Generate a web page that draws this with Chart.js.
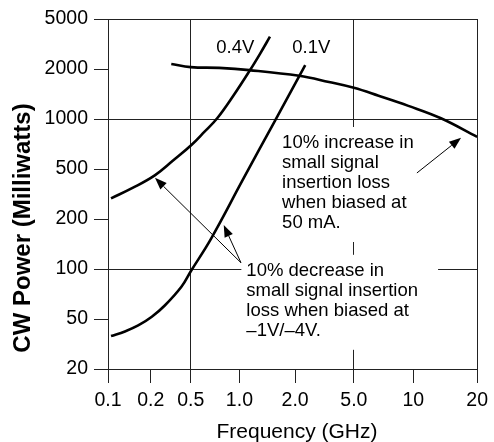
<!DOCTYPE html>
<html>
<head>
<meta charset="utf-8">
<title>CW Power vs Frequency</title>
<script src="https://cdn.jsdelivr.net/npm/chart.js"></script>
<style>
  html, body { margin: 0; padding: 0; background: #fff; }
  #chart { display: block; }
</style>
</head>
<body>
<canvas id="chart" width="494" height="442"></canvas>
<script>
// tick values of the graph paper
const freqTicks = [0.1, 0.2, 0.5, 1.0, 2.0, 5.0, 10, 20];
const freqTickLabels = ['0.1', '0.2', '0.5', '1.0', '2.0', '5.0', '10', '20'];
const powerTicks = [20, 50, 100, 200, 500, 1000, 2000, 5000];
const powerTickLabels = ['20', '50', '100', '200', '500', '1000', '2000', '5000'];

// 0.4V curve (GHz, mW)
const freq04V = [0.105, 0.150, 0.219, 0.331, 0.505, 0.609, 0.729, 0.919, 1.142, 1.292, 1.462];
const power04V = [292, 355, 445, 560, 697, 839, 1010, 1385, 1972, 2642, 3615];

// 0.1V curve
const freq01V = [0.105, 0.1315, 0.163, 0.2046, 0.2756, 0.404, 0.502, 0.670, 1.042, 1.542, 2.34];
const power01V = [36.6, 39.8, 44.4, 51.6, 60.3, 78.2, 97.3, 153, 409, 959, 2150];

// 50 mA curve
const freq50mA = [0.32, 0.5, 0.75, 1.13, 2.13, 3.39, 5, 6.67, 9.44, 13.5, 20];
const power50mA = [2190, 2070, 2040, 1970, 1820, 1670, 1540, 1380, 1200, 1010, 780];

// the paper's x divisions are not evenly spaced, y divisions are
const freqTickPlace = [0, 0.116, 0.224, 0.356, 0.507, 0.666, 0.827, 1];
const powerTickPlace = powerTicks.map((v, i) => i / (powerTicks.length - 1));
const gridAt = [2, 5, 7];

// log interpolation between neighbouring ticks
function place(v, ticks, places) {
    const n = ticks.length;
    let i = 0;
    while (i < n - 2 && v > ticks[i + 1]) i++;
    const t = Math.log(v / ticks[i]) / Math.log(ticks[i + 1] / ticks[i]);
    return places[i] + t * (places[i + 1] - places[i]);
}
const fx = f => place(f, freqTicks, freqTickPlace);
const fy = p => place(p, powerTicks, powerTickPlace);

function curve(xs, ys) {
    return xs.map((f, i) => ({ x: fx(f), y: fy(ys[i]) }));
}

const FONT = '"Liberation Sans", Arial, sans-serif';

const notes = {
    labels: [
        { text: '0.4V', at: [0.72, 2680] },
        { text: '0.1V', at: [1.93, 2680] }
    ],
    blocks: [
        { lines: ['10% increase in', 'small signal', 'insertion loss', 'when biased at', '50 mA.'],
          at: [1.70, 669], padL: 4, padR: 4 },
        { lines: ['10% decrease in', 'small signal insertion', 'loss when biased at', '\u20131V/\u20134V.'],
          at: [1.09, 91], padL: 5, padR: 20 }
    ],
    arrows: [
        { from: [1.02, 109], to: [0.22, 425] },
        { from: [1.02, 109], to: [0.80, 184] },
        { from: [10.4, 465], to: [16.8, 770] }
    ]
};

function toPx(chart, pt) {
    return [chart.scales.x.getPixelForValue(fx(pt[0])), chart.scales.y.getPixelForValue(fy(pt[1]))];
}

const annotate = {
    id: 'annotate',
    beforeDatasetsDraw(chart) {
        const ctx = chart.ctx;
        ctx.save();
        ctx.font = '18.5px ' + FONT;
        ctx.fillStyle = '#fff';
        notes.blocks.forEach(b => {
            const [x, y] = toPx(chart, b.at);
            const w = Math.max(...b.lines.map(l => ctx.measureText(l).width));
            const top = y - 13 - 8;
            const bottom = y + (b.lines.length - 1) * 20 + 14;
            ctx.fillRect(x - b.padL, top, w + b.padL + b.padR, bottom - top);
        });
        ctx.restore();
    },
    afterDraw(chart) {
        const ctx = chart.ctx;
        ctx.save();
        ctx.fillStyle = '#000';
        ctx.textAlign = 'left';
        ctx.textBaseline = 'alphabetic';
        ctx.font = '18.5px ' + FONT;
        notes.labels.forEach(l => {
            const [x, y] = toPx(chart, l.at);
            ctx.fillText(l.text, x, y);
        });
        notes.blocks.forEach(b => {
            const [x, y] = toPx(chart, b.at);
            b.lines.forEach((line, i) => ctx.fillText(line, x, y + i * 20));
        });

        // arrows
        ctx.strokeStyle = '#000';
        ctx.lineWidth = 1;
        notes.arrows.forEach(a => {
            const [x0, y0] = toPx(chart, a.from);
            const [x1, y1] = toPx(chart, a.to);
            const ang = Math.atan2(y1 - y0, x1 - x0);
            const len = 12, half = 4.5;
            const bx = x1 - len * Math.cos(ang), by = y1 - len * Math.sin(ang);
            ctx.beginPath();
            ctx.moveTo(x0, y0);
            ctx.lineTo(bx, by);
            ctx.stroke();
            ctx.beginPath();
            ctx.moveTo(x1, y1);
            ctx.lineTo(bx + half * Math.sin(ang), by - half * Math.cos(ang));
            ctx.lineTo(bx - half * Math.sin(ang), by + half * Math.cos(ang));
            ctx.closePath();
            ctx.fill();
        });

        // axis titles
        ctx.font = '21px ' + FONT;
        ctx.textAlign = 'center';
        ctx.fillText('Frequency (GHz)', 297, 438);
        ctx.save();
        ctx.translate(30, 228);
        ctx.rotate(-Math.PI / 2);
        ctx.font = 'bold 24px ' + FONT;
        ctx.fillText('CW Power (Milliwatts)', 0, 0);
        ctx.restore();
        ctx.restore();
    }
};

const lineStyle = {
    borderColor: '#000',
    borderWidth: 2.6,
    pointRadius: 0,
    fill: false,
    tension: 0.4
};

new Chart(document.getElementById('chart'), {
    type: 'line',
    data: {
        datasets: [
            { label: '0.4V', data: curve(freq04V, power04V), ...lineStyle },
            { label: '0.1V', data: curve(freq01V, power01V), ...lineStyle },
            { label: '50 mA', data: curve(freq50mA, power50mA), ...lineStyle }
        ]
    },
    options: {
        responsive: false,
        animation: false,
        layout: { padding: { left: 0, right: 15, top: 19, bottom: 0 } },
        plugins: { legend: { display: false }, tooltip: { enabled: false } },
        scales: {
            x: {
                type: 'linear',
                min: 0,
                max: 1,
                afterBuildTicks: s => { s.ticks = freqTickPlace.map(v => ({ value: v })); },
                afterFit: s => { s.height = 73; },
                ticks: {
                    callback: (v, i) => freqTickLabels[i],
                    autoSkip: false,
                    maxRotation: 0,
                    padding: 6,
                    color: '#000',
                    font: { family: FONT, size: 19.5 }
                },
                grid: {
                    color: c => gridAt.includes(c.index) ? '#222' : 'rgba(0,0,0,0)',
                    tickColor: '#222',
                    tickLength: 14,
                    lineWidth: 1
                },
                border: { color: '#222', width: 1 }
            },
            y: {
                type: 'linear',
                min: 0,
                max: 1,
                afterBuildTicks: s => { s.ticks = powerTickPlace.map(v => ({ value: v })); },
                afterFit: s => { s.width = 108; },
                ticks: {
                    callback: (v, i) => powerTickLabels[i],
                    autoSkip: false,
                    padding: 6,
                    color: '#000',
                    font: { family: FONT, size: 19.5 }
                },
                grid: {
                    color: c => gridAt.includes(c.index) ? '#222' : 'rgba(0,0,0,0)',
                    tickColor: '#222',
                    tickLength: 14,
                    lineWidth: 1
                },
                border: { color: '#222', width: 1 }
            }
        }
    },
    plugins: [annotate]
});
</script>
</body>
</html>
